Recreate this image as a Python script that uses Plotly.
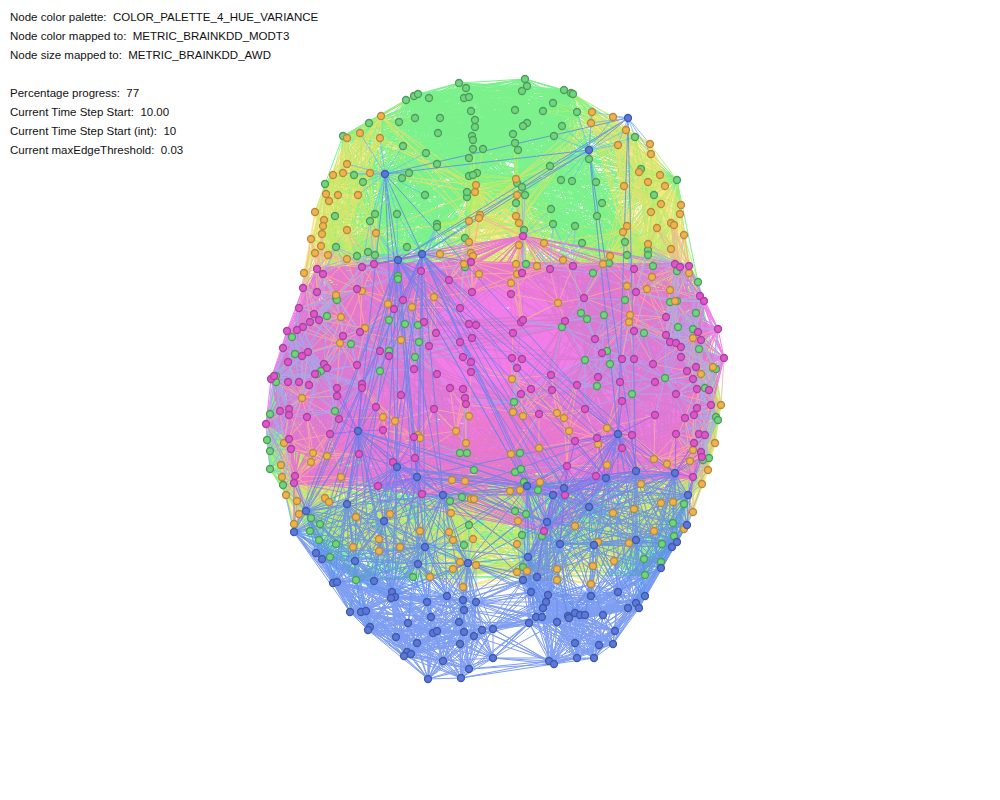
import numpy as np
import plotly.graph_objects as go

# ---------------- data (node positions, pixel units) ----------------
GREEN_NODES = [
    (459,83),(466,88),(464,98),(469,97),(406,100),(414,96),(418,94),(429,98),(471,111),(415,118),
    (440,118),(369,123),(399,122),(475,120),(475,127),(343,136),(438,133),(472,136),(473,140),(403,146),
    (473,149),(483,149),(426,153),(469,158),(437,164),(325,184),(354,175),(363,182),(402,178),(409,173),
    (469,176),(477,173),(473,175),(425,195),(467,197),(467,192),(335,216),(375,214),(397,214),(370,221),
    (437,224),(437,227),(336,247),(368,252),(407,247),(465,238),(357,256),(375,255),(465,267),
    (525,79),(527,86),(522,91),(564,90),(571,93),(573,94),(553,103),(515,110),(543,111),(577,112),
    (527,123),(523,126),(562,126),(513,134),(554,136),(515,143),(518,150),(635,137),(589,159),(550,166),
    (641,169),(677,180),(517,183),(522,187),(561,180),(572,181),(596,182),(525,195),(654,195),(516,203),
    (602,203),(551,209),(597,216),(553,224),(575,226),(524,230),(625,242),(582,243),(627,255),(648,250),
    (648,255),(526,264),(609,263),(653,266),(593,273),(677,271),
    (398,276),(398,279),(336,298),(337,300),(327,316),(389,320),(405,324),(418,325),(292,337),(351,344),
    (419,342),(389,351),(415,357),(295,354),(321,371),(317,374),(380,371),(276,376),(276,382),(270,414),
    (335,411),(267,440),(270,451),(460,453),(467,453),(474,470),(270,469),
    (698,282),(625,300),(670,302),(677,301),(581,313),(604,315),(587,319),(562,327),(678,327),(693,329),
    (696,313),(644,333),(699,349),(607,351),(585,360),(610,364),(713,368),(716,369),(665,378),(597,386),
    (705,388),(632,394),(514,402),(716,417),(718,420),(520,453),(515,472),(521,469),(709,458),(703,460),
    (283,485),(311,518),(320,524),(310,531),(319,540),(336,544),(330,557),(356,580),(413,577),(464,545),
    (469,525),(450,501),(462,497),
    (524,482),(538,490),(515,511),(526,514),(542,536),(522,535),(523,567),(684,504),(673,523),(674,536),
    (662,544),(644,559),(661,562),(645,575),
]

ORANGE_NODES = [
    (381,116),(347,138),(360,133),(380,138),(347,164),(333,175),(343,173),(370,173),(326,194),(338,195),
    (358,195),(329,201),(476,185),(475,192),(315,212),(324,220),(323,226),(347,230),(376,233),(322,234),
    (311,239),(321,246),(480,215),(479,218),(469,221),(469,242),(315,253),(328,255),(347,259),(440,254),
    (304,273),(471,253),(473,256),(464,264),
    (592,112),(613,117),(591,123),(626,130),(650,144),(618,145),(651,154),(639,172),(660,175),(516,179),
    (648,182),(665,186),(624,186),(517,195),(681,205),(661,204),(651,212),(680,214),(516,216),(519,223),
    (671,223),(674,225),(627,226),(657,228),(623,232),(684,235),(544,243),(648,244),(671,249),(610,256),
    (519,245),(563,260),(603,264),(537,266),(516,264),(689,273),
    (336,295),(362,291),(341,317),(365,328),(388,304),(412,307),(434,297),(401,340),(340,343),(479,274),
    (302,398),(383,417),(395,421),(418,435),(420,438),(456,431),(466,443),(284,443),(313,453),(327,456),
    (281,465),(311,462),(282,477),(341,477),(469,416),
    (652,277),(511,283),(517,274),(627,286),(647,289),(670,290),(558,303),(630,315),(629,322),(675,301),
    (693,338),(713,367),(701,374),(512,379),(513,412),(523,416),(557,413),(564,418),(569,431),(607,428),
    (721,405),(715,443),(693,450),(539,448),(598,444),(511,454),(654,459),(667,464),(690,461),(708,470),
    (607,465),
    (286,495),(297,501),(299,514),(294,524),(325,498),(329,502),(356,517),(390,514),(379,539),(353,547),
    (379,551),(400,547),(420,531),(452,480),(465,481),(449,532),(451,513),(471,499),(474,499),(453,540),
    (473,539),(460,562),(453,569),(476,565),(430,577),(463,587),
    (510,491),(520,490),(540,482),(641,484),(518,521),(575,526),(613,513),(634,509),(661,503),(673,502),
    (693,512),(684,529),(654,531),(598,542),(629,543),(517,544),(614,561),(593,566),(517,572),(527,571),
    (557,569),(557,580),(591,584),(702,484),
]

PINK_NODES = [
    (317,269),(362,267),(421,271),(471,262),
    (523,236),(573,266),(550,269),(634,269),(675,264),(680,267),(689,266),(522,273),
    (323,274),(374,264),(303,288),(357,289),(317,292),(299,308),(314,314),(310,322),(319,320),(303,327),
    (297,330),(287,331),(394,309),(403,300),(424,322),(436,333),(449,280),(472,292),(460,308),(469,324),
    (476,325),(472,338),(460,342),(360,332),(343,336),(283,348),(302,356),(308,352),(288,362),(324,364),
    (327,368),(315,374),(357,365),(380,351),(389,356),(429,346),(414,369),(437,374),(463,357),(471,362),
    (471,372),(271,379),(274,376),(299,382),(288,382),(309,385),(337,388),(337,396),(362,384),(362,388),
    (401,395),(450,388),(463,389),(465,398),(466,404),(280,411),(289,409),(266,424),(289,415),(307,417),
    (339,419),(376,407),(434,409),(383,430),(414,437),(330,434),(289,439),(291,449),(359,454),(415,458),
    (393,462),(295,476),
    (511,294),(584,298),(636,292),(666,317),(700,296),(704,301),(521,322),(523,320),(513,333),(565,321),
    (595,339),(634,331),(666,335),(670,342),(676,343),(681,347),(698,332),(701,340),(718,329),(724,358),
    (512,358),(522,359),(517,368),(602,353),(622,359),(634,359),(653,364),(681,357),(687,371),(696,367),
    (551,375),(577,385),(598,377),(620,382),(655,382),(693,379),(697,389),(709,390),(521,394),(531,389),
    (552,390),(676,394),(622,401),(585,409),(697,408),(711,405),(539,414),(655,415),(685,418),(694,415),
    (632,435),(676,434),(699,434),(705,435),(575,441),(597,438),(622,448),(694,443),(701,452),(702,457),
    (567,466),(596,476),(693,477),
    (294,483),(378,486),(422,494),(565,495),(544,531),
]

BLUE_NODES = [
    (385,174),(422,254),(398,260),(628,118),(589,150),
    (358,431),(397,467),(417,477),(618,434),(636,471),(675,473),(606,478),
    (294,532),(306,511),(347,504),(384,521),(443,495),(316,553),(322,559),(355,561),(418,564),(425,547),
    (333,583),(337,582),(374,581),(350,612),(361,612),(366,611),(370,627),(368,630),(392,592),(395,597),
    (391,598),(427,602),(431,617),(447,596),(463,600),(464,610),(476,602),(408,623),(417,643),(396,637),
    (433,633),(437,631),(459,622),(464,632),(474,636),(482,630),(493,629),(460,644),(407,652),(411,654),
    (404,656),(443,661),(469,669),(428,679),(461,678),(468,563),
    (527,486),(553,495),(564,488),(688,495),(589,507),(547,522),(687,525),(636,540),(560,544),(672,547),
    (677,542),(528,557),(661,568),(523,580),(537,577),(531,592),(548,595),(546,602),(591,596),(618,592),
    (645,596),(636,603),(628,608),(639,608),(543,608),(536,617),(542,617),(557,622),(568,616),(575,613),
    (580,615),(585,615),(569,618),(603,615),(529,623),(615,631),(575,643),(599,645),(613,644),(594,658),
    (577,658),(549,661),(554,664),(493,658),(594,545),
]

INFO_LABELS = ["Node color palette:", "Node color mapped to:", "Node size mapped to:", "",
               "Percentage progress:", "Current Time Step Start:", "Current Time Step Start (int):",
               "Current maxEdgeThreshold:"]
INFO_VALUES = ["COLOR_PALETTE_4_HUE_VARIANCE", "METRIC_BRAINKDD_MODT3", "METRIC_BRAINKDD_AWD", "",
               "77", "10.00", "10", "0.03"]

# ---------------- styling ----------------
GROUPS = {"green": GREEN_NODES, "orange": ORANGE_NODES, "pink": PINK_NODES, "blue": BLUE_NODES}
NODE_FILL = {"green": "#6fd67c", "orange": "#f0b24a", "pink": "#e055cc", "blue": "#5b77dc"}
NODE_LINE = {"green": "#4f9a5e", "orange": "#b58a40", "pink": "#a5449a", "blue": "#3f5aa6"}
X_SCALE = {"green": 0.75, "orange": 1.0, "pink": 0.22, "blue": 0.8}
K_NEAR = {"green": 42, "orange": 22, "pink": 55, "blue": 24}
MAX_LEN = {"green": 1e9, "orange": 1e9, "pink": 1e9, "blue": 320}
MIN_K = 6
CROSS_DIST = 50
EDGE_COLORS = {
    ("green", "green"): "#5cee70",
    ("orange", "orange"): "#f2e266",
    ("green", "orange"): "#b0f06a",
    ("blue", "green"): "#56cfe8",
    ("blue", "orange"): "#86b0ea",
    ("pink", "pink"): "#f05ee4",
    ("orange", "pink"): "#f6b09a",
    ("green", "pink"): "#9fb0f0",
    ("blue", "blue"): "#5f86f0",
    ("blue", "pink"): "#9266f0",
}

# ---------------- edges derived from node layout ----------------
names, pts = [], []
for g, lst in GROUPS.items():
    for p in lst:
        names.append(g)
        pts.append(p)
pts = np.array(pts, dtype=float)
names = np.array(names)

pairs = set()
for g in GROUPS:
    idx = np.where(names == g)[0]
    P = pts[idx]
    dx = (P[:, None, 0] - P[None, :, 0]) * X_SCALE[g]
    dy = P[:, None, 1] - P[None, :, 1]
    d = np.sqrt(dx ** 2 + dy ** 2)
    np.fill_diagonal(d, np.inf)
    k = K_NEAR[g]
    for a in range(len(idx)):
        for r, b in enumerate(np.argsort(d[a])[:k]):
            if r >= MIN_K and d[a, b] > MAX_LEN[g]:
                continue
            i, j = idx[a], idx[b]
            pairs.add((min(i, j), max(i, j)))

D = np.sqrt(((pts[:, None, :] - pts[None, :, :]) ** 2).sum(-1))
n = len(pts)
for i in range(n):
    for j in range(i + 1, n):
        if names[i] != names[j] and D[i, j] < CROSS_DIST:
            pairs.add((i, j))

edge_xy = {key: ([], []) for key in EDGE_COLORS}
for i, j in sorted(pairs):
    key = tuple(sorted((names[i], names[j])))
    xs, ys = edge_xy[key]
    xs += [pts[i, 0], pts[j, 0], None]
    ys += [pts[i, 1], pts[j, 1], None]

fig = go.Figure()
for key, col in EDGE_COLORS.items():
    xs, ys = edge_xy[key]
    if not xs:
        continue
    fig.add_trace(go.Scatter(x=xs, y=ys, mode="lines", line=dict(color=col, width=1),
                             opacity=0.8, hoverinfo="skip", showlegend=False))

for g, lst in GROUPS.items():
    fig.add_trace(go.Scatter(
        x=[p[0] for p in lst], y=[p[1] for p in lst], mode="markers",
        marker=dict(size=7, color=NODE_FILL[g], line=dict(color=NODE_LINE[g], width=1.3)),
        hoverinfo="skip", showlegend=False))

for k, (lab, val) in enumerate(zip(INFO_LABELS, INFO_VALUES)):
    if not lab:
        continue
    fig.add_annotation(x=10, y=17 + 19 * k, xref="x", yref="y", xshift=-2,
                       text=lab + " \u00a0" + val, showarrow=False,
                       xanchor="left", yanchor="middle",
                       font=dict(family="Liberation Sans, Arial", size=11.5, color="#111111"))

fig.update_layout(
    width=1000, height=800, margin=dict(l=0, r=0, t=0, b=0),
    paper_bgcolor="white", plot_bgcolor="white", showlegend=False,
    xaxis=dict(range=[0, 1000], visible=False, fixedrange=True),
    yaxis=dict(range=[800, 0], visible=False, fixedrange=True),
)

fig.write_html("out.html", config={"displayModeBar": False},
               post_script="document.body.style.margin='0';document.body.style.overflow='hidden';")
